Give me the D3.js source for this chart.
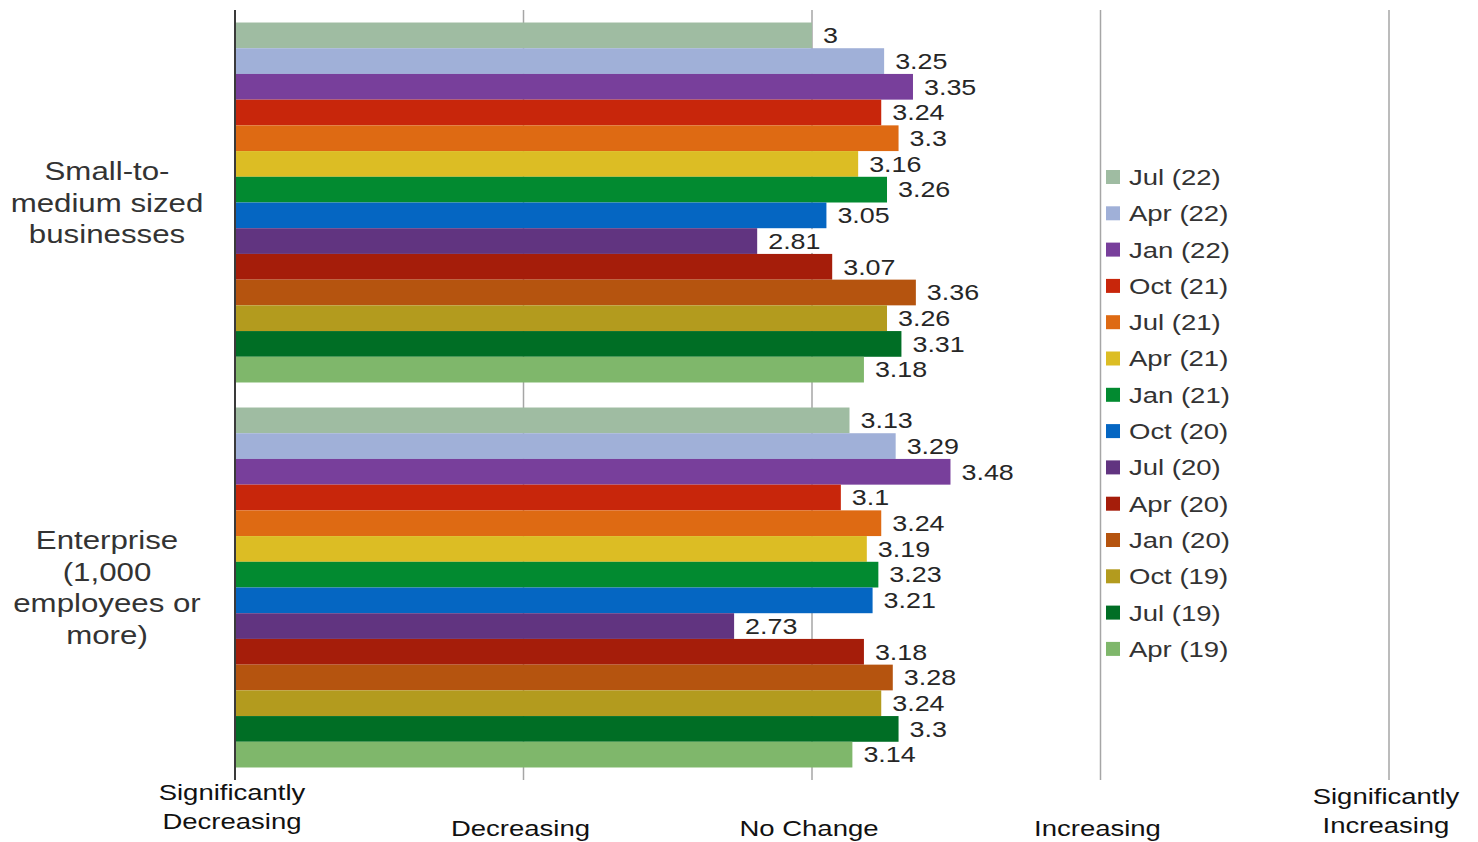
<!DOCTYPE html>
<html>
<head>
<meta charset="utf-8">
<script src="https://cdn.jsdelivr.net/npm/d3@7"></script>
<style>
  html, body { margin: 0; padding: 0; background: #fff; }
  svg { display: block; font-family: "Liberation Sans", Arial, sans-serif; }
</style>
</head>
<body>
<svg id="chart" width="1478" height="842"></svg>
<script>
const categories = ["Small-to-\nmedium sized\nbusinesses", "Enterprise\n(1,000\nemployees or\nmore)"];
const series = ["Jul (22)", "Apr (22)", "Jan (22)", "Oct (21)", "Jul (21)", "Apr (21)", "Jan (21)",
                "Oct (20)", "Jul (20)", "Apr (20)", "Jan (20)", "Oct (19)", "Jul (19)", "Apr (19)"];
const colors = ["#9fbca2", "#a0b0d8", "#783f9b", "#c8260b", "#de6a13", "#dcbd24", "#028a30",
                "#0566c2", "#613480", "#a51d0a", "#b5540f", "#b39b1e", "#006e25", "#7fb76b"];
const smbValues = [3, 3.25, 3.35, 3.24, 3.3, 3.16, 3.26, 3.05, 2.81, 3.07, 3.36, 3.26, 3.31, 3.18];
const enterpriseValues = [3.13, 3.29, 3.48, 3.1, 3.24, 3.19, 3.23, 3.21, 2.73, 3.18, 3.28, 3.24, 3.3, 3.14];
const tickValues = [1, 2, 3, 4, 5];
const tickLabels = ["Significantly\nDecreasing", "Decreasing", "No Change", "Increasing", "Significantly\nIncreasing"];

const valuesByCategory = [smbValues, enterpriseValues];
const SX = 1.25; // horizontal stretch of the reference's text

const svg = d3.select("#chart");
const x = d3.scaleLinear().domain([1, 5]).range([235, 1389]);
const y = d3.scaleBand().domain(categories).range([10, 780]).paddingInner(0.065).paddingOuter(0.0325);
const ySub = d3.scaleBand().domain(series).range([0, y.bandwidth()]);
const color = d3.scaleOrdinal().domain(series).range(colors);

// gridlines
svg.append("g").selectAll("line").data(tickValues.slice(1)).join("line")
  .attr("x1", d => x(d)).attr("x2", d => x(d))
  .attr("y1", 10).attr("y2", 780)
  .attr("stroke", "#a6a6a6").attr("stroke-width", 1.5);

// bars
const groups = svg.append("g").selectAll("g").data(categories).join("g")
  .attr("transform", d => `translate(0,${y(d)})`);

groups.each(function(cat, ci) {
  const g = d3.select(this);
  const vals = valuesByCategory[ci].map((v, i) => ({s: series[i], v}));
  g.selectAll("rect.bar").data(vals).join("rect").attr("class", "bar")
    .attr("x", x(1)).attr("y", d => ySub(d.s))
    .attr("width", d => x(d.v) - x(1)).attr("height", ySub.bandwidth())
    .attr("fill", d => color(d.s));
  const lab = g.selectAll("g.lab").data(vals).join("g").attr("class", "lab")
    .attr("transform", d => `translate(${x(d.v)},${ySub(d.s) + ySub.bandwidth() / 2})`);
  lab.each(function(d) {
    const lg = d3.select(this);
    const bg = lg.append("rect").attr("fill", "#fff");
    const t = lg.append("text")
      .attr("transform", `translate(11,0) scale(${SX},1)`)
      .attr("dy", "0.36em")
      .attr("font-size", 21.5).attr("fill", "#262626")
      .text(d.v);
    const w = t.node().getComputedTextLength() * SX;
    bg.attr("x", 1).attr("y", -ySub.bandwidth() / 2 + 1)
      .attr("width", w + 16).attr("height", ySub.bandwidth() - 2);
  });
});

// y axis line
svg.append("line").attr("x1", x(1)).attr("x2", x(1)).attr("y1", 10).attr("y2", 780)
  .attr("stroke", "#3a3a3a").attr("stroke-width", 2);

// category labels
svg.append("g").selectAll("g").data(categories).join("g")
  .attr("transform", d => `translate(107,${y(d) + y.bandwidth() / 2}) scale(${SX},1)`)
  .each(function(d) {
    const lines = d.split("\n");
    const t = d3.select(this).append("text").attr("text-anchor", "middle")
      .attr("font-size", 25).attr("fill", "#333");
    lines.forEach((ln, i) => {
      t.append("tspan").attr("x", 0)
        .attr("y", (i - (lines.length - 1) / 2) * 31.5)
        .attr("dy", "0.36em").text(ln);
    });
  });

// x tick labels
svg.append("g").selectAll("g").data(tickValues).join("g")
  .attr("transform", (d, i) => `translate(${x(d) - 3},0) scale(${SX},1)`)
  .each(function(d, i) {
    const lines = tickLabels[i].split("\n");
    const t = d3.select(this).append("text").attr("text-anchor", "middle")
      .attr("font-size", 22).attr("fill", "#111");
    const base = lines.length === 1 ? 836 : (i === 0 ? 800 : 804);
    lines.forEach((ln, j) => {
      t.append("tspan").attr("x", 0).attr("y", base + j * 29).text(ln);
    });
  });

// legend
const legend = svg.append("g").selectAll("g").data(series).join("g")
  .attr("transform", (d, i) => `translate(1106,${177 + i * 36.3})`);
legend.append("rect").attr("x", 0).attr("y", -7).attr("width", 14).attr("height", 14)
  .attr("fill", d => color(d));
legend.append("text").attr("transform", `translate(23,0) scale(${SX},1)`)
  .attr("dy", "0.36em").attr("font-size", 22).attr("fill", "#333").text(d => d);
</script>
</body>
</html>
